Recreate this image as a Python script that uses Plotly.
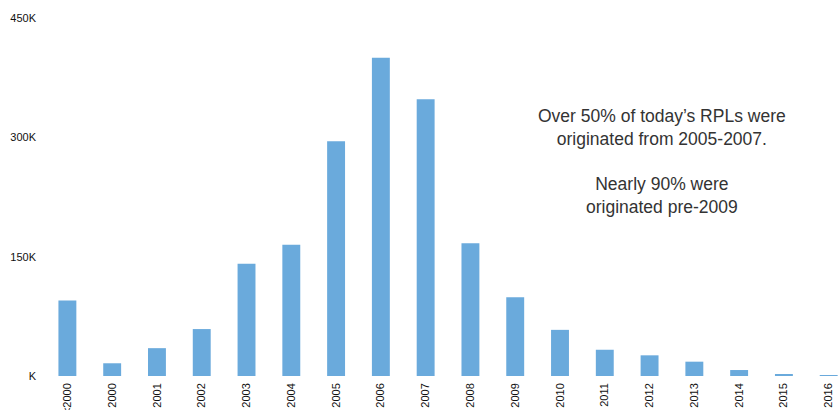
import plotly.graph_objects as go

categories = ["<2000", "2000", "2001", "2002", "2003", "2004", "2005", "2006", "2007",
              "2008", "2009", "2010", "2011", "2012", "2013", "2014", "2015", "2016"]
values_k = [95, 16, 35, 59, 141, 165, 295, 400, 348, 167, 99, 58, 33, 26, 18, 7.5, 2, 0.5]
y_tick_vals = [0, 150, 300, 450]
y_tick_text = ["K", "150K", "300K", "450K"]
note = ("Over 50% of today\u2019s RPLs were<br>originated from 2005-2007.<br><br>"
        "Nearly 90% were<br>originated pre-2009")

fig = go.Figure(go.Bar(
    x=categories, y=values_k,
    marker=dict(color="#6aaadc", line=dict(width=0)),
))

fig.update_layout(
    width=839, height=410,
    margin=dict(l=45, r=0, t=18, b=34),
    paper_bgcolor="white", plot_bgcolor="white",
    bargap=0.6,
    showlegend=False,
    font=dict(family="Liberation Sans, Arial, sans-serif", color="#111"),
    xaxis=dict(range=[-0.5, 17.23], tickangle=-90, tickfont=dict(size=11),
               showgrid=False, showline=False, zeroline=False, ticks="",
               ticklabelstandoff=4, automargin=False),
    yaxis=dict(range=[0, 450], tickvals=y_tick_vals, ticktext=y_tick_text,
               tickfont=dict(size=11), showgrid=False, showline=False,
               zeroline=False, ticks="", ticklabelstandoff=8, automargin=False),
    annotations=[dict(
        x=(662 - 45) / (839 - 45), y=(376 - 161) / (376 - 18),
        xref="paper", yref="paper", xanchor="center", yanchor="middle",
        text=note, showarrow=False, align="center",
        font=dict(size=17.5, color="#333"),
    )],
)

fig.write_html(
    "out.html",
    config={"displayModeBar": False},
    post_script="document.body.style.margin='0';document.body.style.overflow='hidden';",
)
